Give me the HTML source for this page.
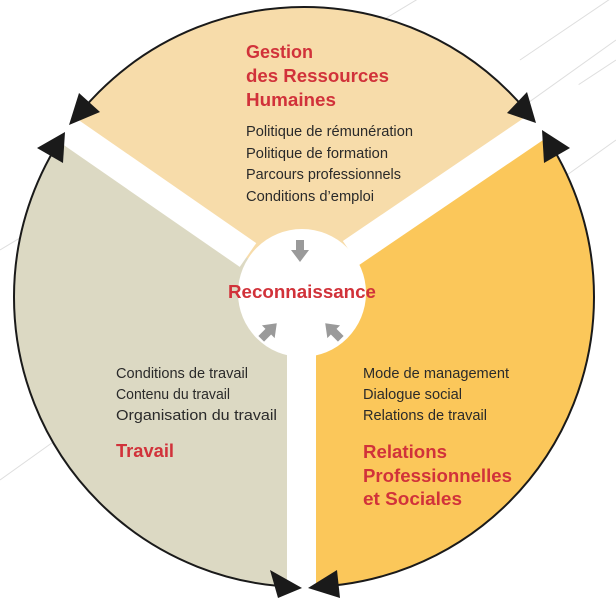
<!DOCTYPE html>
<html><head><meta charset="utf-8"><style>
html,body{margin:0;padding:0;background:#fff;width:616px;height:606px;overflow:hidden}
svg{display:block}
.h{font-family:"Liberation Sans Narrow","Liberation Sans",sans-serif;font-weight:bold;fill:#d1323a;font-size:18px}
.t{font-family:"Liberation Sans Narrow","Liberation Sans",sans-serif;fill:#2a2a2a;font-size:14.5px}
</style></head><body>
<svg width="616" height="606" viewBox="0 0 616 606" xmlns="http://www.w3.org/2000/svg">
<defs>
<polygon id="ar" points="-4,-11 4,-11 4,-1 9,-1 0,11 -9,-1 -4,-1" fill="#9a9a9a"/>
</defs>
<g stroke="#dedede" stroke-width="1" fill="none">
<line x1="0" y1="480" x2="616" y2="40"/>
<line x1="0" y1="250" x2="616" y2="-120"/>
<line x1="520" y1="60" x2="616" y2="-5"/>
<line x1="540" y1="110" x2="616" y2="60"/>
<line x1="560" y1="180" x2="616" y2="140"/>
</g>
<circle cx="304" cy="297" r="290" fill="#f7dcaa"/>
<path d="M304 297 L544 135 A290 290 0 0 1 304 587 Z" fill="#fbc75a"/>
<path d="M304 297 L304 587 A290 290 0 0 1 64 133 Z" fill="#dcd9c3"/>
<circle cx="304" cy="297" r="290" fill="none" stroke="#1a1a1a" stroke-width="2"/>
<g stroke="#fff" stroke-width="29" fill="none">
<line x1="248" y1="255" x2="30" y2="104"/>
<line x1="351" y1="253" x2="585" y2="94"/>
<line x1="301.5" y1="280" x2="301.5" y2="606"/>
</g>
<circle cx="302" cy="293" r="64" fill="#fff"/>
<g fill="#1a1a1a">
<polygon points="79,93 100,112 69,125"/>
<polygon points="65,132 63,163 37,148"/>
<polygon points="527,92 536,123 507,113"/>
<polygon points="542,130 570,148 544,163"/>
<polygon points="270,570 302,588 278,598"/>
<polygon points="308,588 337,570 340,598"/>
</g>
<use href="#ar" transform="translate(300,251)"/>
<use href="#ar" transform="translate(269,331) rotate(-135)"/>
<use href="#ar" transform="translate(333,331) rotate(135)"/>
<text class="h" x="246" y="58" textLength="67" lengthAdjust="spacingAndGlyphs">Gestion</text>
<text class="h" x="246" y="82" textLength="143" lengthAdjust="spacingAndGlyphs">des Ressources</text>
<text class="h" x="246" y="106" textLength="90" lengthAdjust="spacingAndGlyphs">Humaines</text>
<text class="t" x="246" y="136" textLength="167" lengthAdjust="spacingAndGlyphs">Politique de rémunération</text>
<text class="t" x="246" y="158" textLength="142" lengthAdjust="spacingAndGlyphs">Politique de formation</text>
<text class="t" x="246" y="179" textLength="155" lengthAdjust="spacingAndGlyphs">Parcours professionnels</text>
<text class="t" x="246" y="201" textLength="128" lengthAdjust="spacingAndGlyphs">Conditions d’emploi</text>
<text class="h" x="228" y="298" textLength="148" lengthAdjust="spacingAndGlyphs">Reconnaissance</text>
<text class="t" x="116" y="378" textLength="132" lengthAdjust="spacingAndGlyphs">Conditions de travail</text>
<text class="t" x="116" y="399" textLength="114" lengthAdjust="spacingAndGlyphs">Contenu du travail</text>
<text class="t" x="116" y="420" textLength="161" lengthAdjust="spacingAndGlyphs">Organisation du travail</text>
<text class="h" x="116" y="457" textLength="58" lengthAdjust="spacingAndGlyphs">Travail</text>
<text class="t" x="363" y="378" textLength="146" lengthAdjust="spacingAndGlyphs">Mode de management</text>
<text class="t" x="363" y="399" textLength="99" lengthAdjust="spacingAndGlyphs">Dialogue social</text>
<text class="t" x="363" y="420" textLength="124" lengthAdjust="spacingAndGlyphs">Relations de travail</text>
<text class="h" x="363" y="458" textLength="84" lengthAdjust="spacingAndGlyphs">Relations</text>
<text class="h" x="363" y="482" textLength="149" lengthAdjust="spacingAndGlyphs">Professionnelles</text>
<text class="h" x="363" y="505" textLength="99" lengthAdjust="spacingAndGlyphs">et Sociales</text>
</svg>
</body></html>
